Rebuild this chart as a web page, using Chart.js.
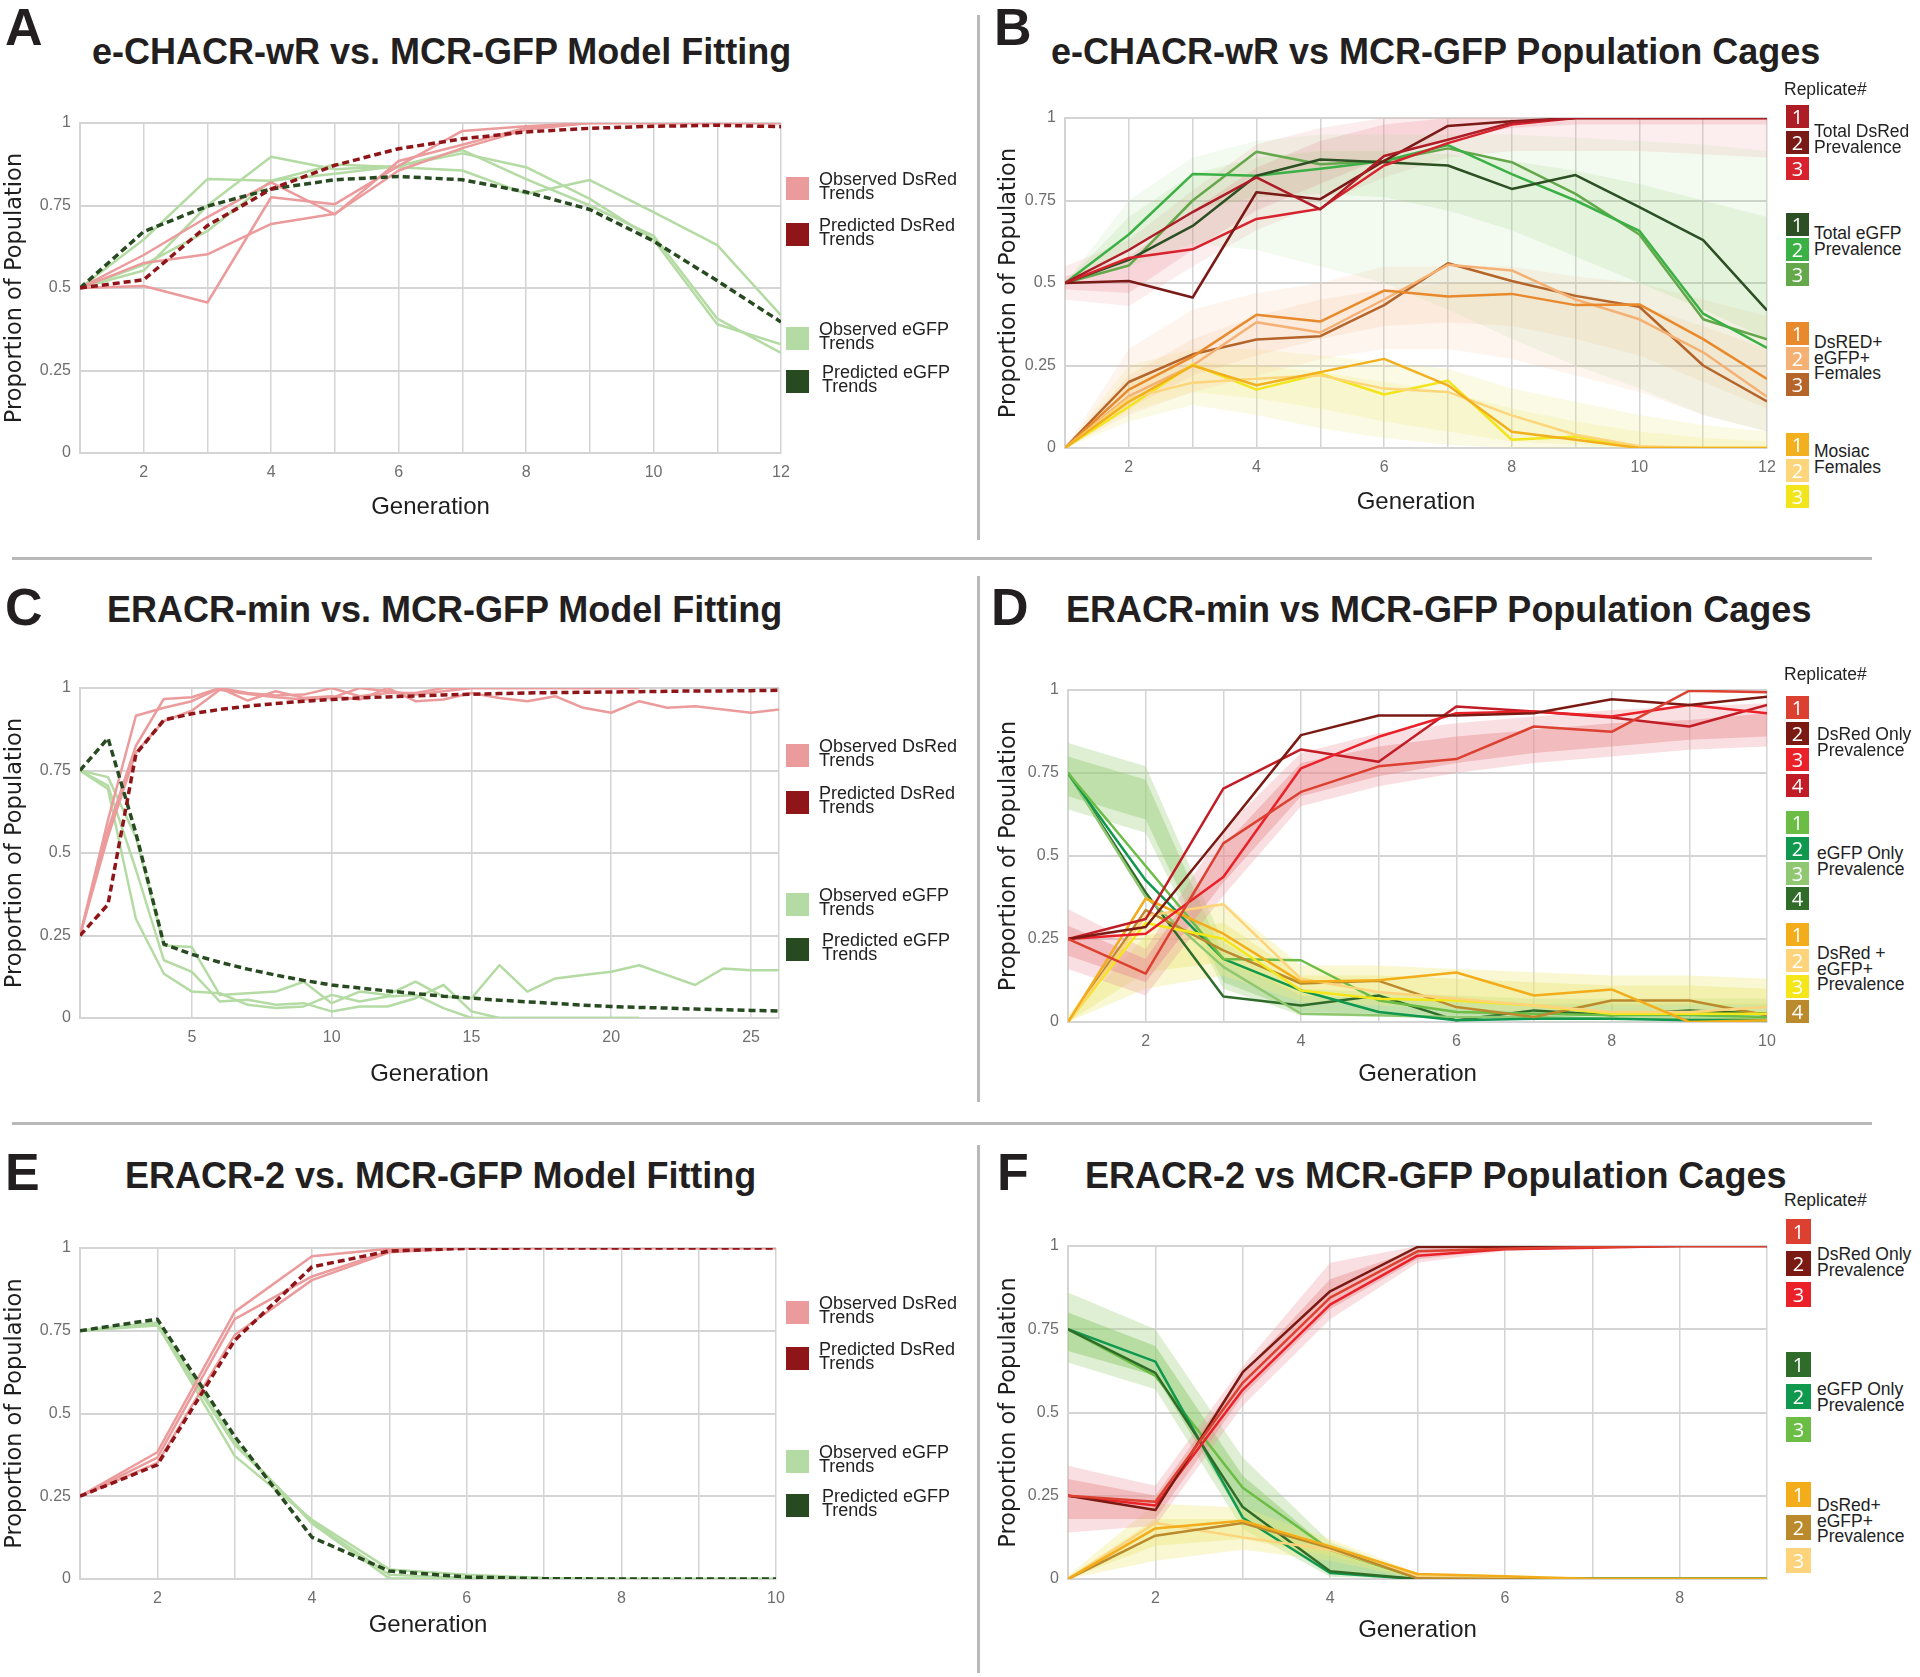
<!DOCTYPE html>
<html><head><meta charset="utf-8"><title>Population cage model fitting</title>
<script src="https://cdn.jsdelivr.net/npm/chart.js@4.4.1/dist/chart.umd.min.js"></script>
<style>
html,body{margin:0;padding:0;background:#fff;}
body{width:1920px;height:1677px;position:relative;overflow:hidden;font-family:'Liberation Sans',Arial,sans-serif;}
canvas{position:absolute;}
.sep{position:absolute;background:#b9b9b9;}
.letter{position:absolute;font-weight:bold;font-size:52px;line-height:52px;color:#231f20;}
.title{position:absolute;font-weight:bold;font-size:36px;line-height:36px;color:#231f20;white-space:nowrap;}
.ltxt{position:absolute;font-size:18px;line-height:13.5px;color:#222;white-space:nowrap;}
.gtxt{position:absolute;font-size:17.5px;line-height:15.5px;color:#222;white-space:nowrap;}
.box{position:absolute;}
.nbox{position:absolute;color:#fff;font-family:'Open Sans',sans-serif;font-size:20px;text-align:center;}
</style></head>
<body>
<script>
// ================= DATA =================
// Panel A / B : e-CHACR-wR vs MCR-GFP (generations 1..12)
const genAB = [1,2,3,4,5,6,7,8,9,10,11,12];
const abRed1 = [0.5, 0.6, 0.715, 0.82, 0.723, 0.885, 0.934, 0.986, 1, 1, 1, 1];
const abRed2 = [0.5, 0.506, 0.456, 0.775, 0.754, 0.87, 0.976, 0.99, 1, 1, 1, 1];
const abRed3 = [0.5, 0.576, 0.602, 0.694, 0.725, 0.856, 0.924, 0.98, 1, 1, 1, 1];
const abGfp1 = [0.5, 0.57, 0.673, 0.825, 0.874, 0.866, 0.856, 0.785, 0.827, 0.73, 0.63, 0.417];
const abGfp2 = [0.5, 0.647, 0.83, 0.825, 0.846, 0.87, 0.918, 0.83, 0.75, 0.658, 0.407, 0.303];
const abGfp3 = [0.5, 0.553, 0.75, 0.898, 0.86, 0.87, 0.908, 0.866, 0.77, 0.647, 0.39, 0.329];
const aPredRed = [0.5, 0.525, 0.689, 0.8, 0.872, 0.922, 0.952, 0.973, 0.984, 0.99, 0.993, 0.989];
const aPredGfp = [0.5, 0.671, 0.748, 0.8, 0.828, 0.838, 0.828, 0.791, 0.738, 0.642, 0.522, 0.397];
const bDblF1 = [0, 0.177, 0.277, 0.404, 0.383, 0.477, 0.459, 0.467, 0.433, 0.435, 0.33, 0.209];
const bDblF2 = [0, 0.157, 0.25, 0.381, 0.35, 0.45, 0.555, 0.538, 0.45, 0.39, 0.29, 0.155];
const bDblF3 = [0, 0.2, 0.284, 0.329, 0.339, 0.433, 0.56, 0.506, 0.461, 0.428, 0.25, 0.141];
const bMos1 = [0, 0.14, 0.25, 0.19, 0.23, 0.27, 0.19, 0.049, 0.025, 0, 0, 0];
const bMos2 = [0, 0.15, 0.198, 0.21, 0.22, 0.18, 0.17, 0.099, 0.04, 0.005, 0, 0];
const bMos3 = [0, 0.125, 0.253, 0.177, 0.225, 0.162, 0.204, 0.025, 0.035, 0, 0, 0];
// simulated-run envelopes (outer spread and dense core) for panel B
const bSimRedLo  = [0.45, 0.43, 0.55, 0.66, 0.74, 0.82, 0.88, 0.9, 0.9, 0.9, 0.89, 0.88];
const bSimRedHi  = [0.55, 0.63, 0.78, 0.92, 0.97, 1, 1, 1, 1, 1, 1, 1];
const bCoreRedLo = [0.48, 0.47, 0.6, 0.72, 0.8, 0.88, 0.94, 0.97, 0.98, 0.98, 0.98, 0.98];
const bCoreRedHi = [0.52, 0.58, 0.72, 0.85, 0.93, 0.98, 1, 1, 1, 1, 1, 1];
const bSimGfpLo  = [0.5, 0.55, 0.62, 0.6, 0.55, 0.5, 0.42, 0.33, 0.25, 0.18, 0.1, 0.05];
const bSimGfpHi  = [0.5, 0.75, 0.88, 0.93, 0.95, 0.95, 0.95, 0.95, 0.94, 0.93, 0.92, 0.9];
const bCoreGfpLo = [0.5, 0.6, 0.72, 0.76, 0.77, 0.76, 0.72, 0.66, 0.58, 0.5, 0.42, 0.33];
const bCoreGfpHi = [0.5, 0.7, 0.83, 0.88, 0.9, 0.9, 0.89, 0.87, 0.84, 0.8, 0.75, 0.7];
const bSimDblLo  = [0, 0.1, 0.17, 0.22, 0.27, 0.3, 0.3, 0.27, 0.22, 0.17, 0.1, 0.05];
const bSimDblHi  = [0, 0.3, 0.42, 0.47, 0.5, 0.55, 0.55, 0.55, 0.52, 0.5, 0.45, 0.4];
const bCoreDblLo = [0, 0.12, 0.22, 0.28, 0.33, 0.37, 0.38, 0.37, 0.33, 0.28, 0.2, 0.12];
const bCoreDblHi = [0, 0.22, 0.33, 0.4, 0.45, 0.48, 0.5, 0.5, 0.47, 0.43, 0.37, 0.3];
const bSimMosLo  = [0, 0.08, 0.13, 0.1, 0.06, 0.03, 0.01, 0, 0, 0, 0, 0];
const bSimMosHi  = [0, 0.25, 0.3, 0.3, 0.28, 0.26, 0.24, 0.18, 0.14, 0.1, 0.07, 0.05];
const bCoreMosLo = [0, 0.11, 0.17, 0.15, 0.12, 0.08, 0.05, 0.02, 0.01, 0, 0, 0];
const bCoreMosHi = [0, 0.2, 0.26, 0.25, 0.23, 0.2, 0.17, 0.12, 0.08, 0.05, 0.03, 0.02];

// Panel C : ERACR-min vs MCR-GFP model fitting (generations 1..26)
const genC = [1,2,3,4,5,6,7,8,9,10,11,12,13,14,15,16,17,18,19,20,21,22,23,24,25,26];
const cObsRed1 = [0.25, 0.6, 0.916, 0.94, 0.96, 1.0, 0.962, 0.99, 0.97, 0.975, 0.965, 1.0, 0.96, 0.965, 0.985, 0.97, 0.96, 0.975, 0.94, 0.925, 0.96, 0.94, 0.945, 0.935, 0.925, 0.935];
const cObsRed2 = [0.25, 0.57, 0.825, 0.967, 0.972, 1.0, 0.985, 0.977, 0.98, 1.0, 0.975, 0.985, 0.985, 1.0, 1.0, 1.0, 1.0, 1.0, 1.0, 1.0, 1.0];
const cObsRed3 = [0.25, 0.55, 0.805, 0.9, 0.931, 0.995, 0.982, 0.972, 0.965, 0.97, 1.0, 0.99, 0.98, 0.99, 1.0, 1.0, 1.0, 1.0, 1.0, 1.0, 1.0];
const cObsGfp1 = [0.75, 0.73, 0.548, 0.22, 0.215, 0.07, 0.075, 0.08, 0.11, 0.045, 0.08, 0.07, 0.11, 0.065, 0.06, 0.16, 0.08, 0.12, 0.13, 0.14, 0.16, 0.13, 0.1, 0.15, 0.145, 0.145];
const cObsGfp2 = [0.75, 0.704, 0.45, 0.175, 0.14, 0.05, 0.055, 0.04, 0.045, 0.02, 0.035, 0.035, 0.06, 0.1, 0.02, 0, 0, 0, 0, 0, 0];
const cObsGfp3 = [0.75, 0.694, 0.3, 0.134, 0.08, 0.075, 0.04, 0.03, 0.035, 0.07, 0.05, 0.065, 0.07, 0.03, 0, 0, 0, 0, 0, 0, 0];
const cPredRed = [0.25, 0.344, 0.8, 0.903, 0.922, 0.935, 0.945, 0.953, 0.96, 0.965, 0.97, 0.973, 0.976, 0.979, 0.981, 0.983, 0.985, 0.986, 0.987, 0.988, 0.989, 0.99, 0.991, 0.991, 0.992, 0.993];
const cPredGfp = [0.75, 0.848, 0.56, 0.224, 0.193, 0.169, 0.148, 0.13, 0.114, 0.1, 0.091, 0.082, 0.074, 0.066, 0.06, 0.054, 0.049, 0.044, 0.039, 0.035, 0.032, 0.03, 0.027, 0.025, 0.023, 0.021];

// Panel D : ERACR-min vs MCR-GFP cages (generations 1..10)
const genD = [1,2,3,4,5,6,7,8,9,10];
const dRed1 = [0.25, 0.146, 0.538, 0.693, 0.77, 0.792, 0.89, 0.874, 0.998, 0.993];
const dRed2 = [0.25, 0.286, 0.573, 0.864, 0.923, 0.923, 0.93, 0.972, 0.955, 0.98];
const dRed3 = [0.25, 0.266, 0.437, 0.764, 0.859, 0.93, 0.935, 0.92, 0.955, 0.93];
const dRed4 = [0.25, 0.31, 0.703, 0.821, 0.784, 0.95, 0.935, 0.917, 0.89, 0.955];
const dGfp1 = [0.75, 0.47, 0.19, 0.186, 0.065, 0.03, 0.025, 0.02, 0.02, 0.015];
const dGfp2 = [0.75, 0.427, 0.19, 0.095, 0.03, 0.005, 0.01, 0.01, 0.005, 0.005];
const dGfp3 = [0.75, 0.377, 0.166, 0.025, 0.02, 0.015, 0.015, 0.01, 0.01, 0.01];
const dGfp4 = [0.75, 0.39, 0.077, 0.05, 0.08, 0.005, 0.035, 0.02, 0.035, 0.025];
const dDbl1 = [0, 0.372, 0.266, 0.121, 0.126, 0.149, 0.08, 0.098, 0, 0.005];
const dDbl2 = [0, 0.32, 0.355, 0.13, 0.09, 0.07, 0.05, 0.03, 0.03, 0.045];
const dDbl3 = [0, 0.298, 0.251, 0.095, 0.07, 0.065, 0.05, 0.025, 0.025, 0.025];
const dDbl4 = [0, 0.337, 0.216, 0.116, 0.124, 0.045, 0.015, 0.065, 0.065, 0.02];
const dSimRedLo  = [0.16, 0.08, 0.38, 0.65, 0.71, 0.75, 0.78, 0.8, 0.82, 0.83];
const dSimRedHi  = [0.34, 0.22, 0.58, 0.81, 0.87, 0.9, 0.92, 0.94, 0.95, 0.96];
const dCoreRedLo = [0.2, 0.12, 0.42, 0.68, 0.74, 0.78, 0.81, 0.83, 0.85, 0.86];
const dCoreRedHi = [0.29, 0.19, 0.53, 0.78, 0.83, 0.86, 0.88, 0.9, 0.91, 0.93];
const dSimGfpLo  = [0.64, 0.57, 0.1, 0.02, 0.015, 0.01, 0.01, 0.01, 0.01, 0.01];
const dSimGfpHi  = [0.84, 0.77, 0.24, 0.1, 0.09, 0.08, 0.07, 0.07, 0.07, 0.07];
const dCoreGfpLo = [0.68, 0.61, 0.12, 0.03, 0.025, 0.02, 0.02, 0.02, 0.02, 0.02];
const dCoreGfpHi = [0.8, 0.73, 0.2, 0.08, 0.07, 0.06, 0.055, 0.055, 0.055, 0.055];
const dSimDblLo  = [0, 0.1, 0.14, 0.06, 0.05, 0.04, 0.03, 0.03, 0.02, 0.02];
const dSimDblHi  = [0.02, 0.32, 0.36, 0.17, 0.17, 0.16, 0.15, 0.14, 0.14, 0.13];
const dCoreDblLo = [0, 0.15, 0.18, 0.08, 0.07, 0.06, 0.05, 0.05, 0.05, 0.05];
const dCoreDblHi = [0.01, 0.26, 0.3, 0.14, 0.14, 0.13, 0.12, 0.11, 0.11, 0.1];

// Panel E : ERACR-2 vs MCR-GFP model fitting (generations 1..10)
const genE = [1,2,3,4,5,6,7,8,9,10];
const eObsRed1 = [0.25, 0.383, 0.807, 0.975, 0.998, 1, 1, 1, 1, 1];
const eObsRed2 = [0.25, 0.367, 0.785, 0.914, 0.991, 1, 1, 1, 1, 1];
const eObsRed3 = [0.25, 0.351, 0.737, 0.903, 0.987, 1, 1, 1, 1, 1];
const eObsGfp1 = [0.75, 0.769, 0.372, 0.179, 0.029, 0.013, 0.003, 0, 0, 0];
const eObsGfp2 = [0.75, 0.766, 0.405, 0.174, 0.013, 0.004, 0, 0, 0, 0];
const eObsGfp3 = [0.75, 0.775, 0.415, 0.168, 0.002, 0, 0, 0, 0, 0];
const ePredRed = [0.25, 0.345, 0.721, 0.943, 0.991, 0.999, 1, 1, 1, 1];
const ePredGfp = [0.75, 0.785, 0.431, 0.126, 0.024, 0.006, 0.001, 0, 0, 0];

// Panel F : ERACR-2 vs MCR-GFP cages (generations 1..9)
const genF = [1,2,3,4,5,6,7,8,9];
const fRed1 = [0.25, 0.232, 0.589, 0.845, 0.984, 0.992, 0.997, 1, 1];
const fRed2 = [0.25, 0.207, 0.621, 0.864, 0.997, 0.998, 1, 1, 1];
const fRed3 = [0.25, 0.221, 0.568, 0.824, 0.971, 0.99, 0.995, 1, 1];
const fGfp1 = [0.75, 0.619, 0.216, 0.023, 0, 0, 0, 0, 0];
const fGfp2 = [0.75, 0.653, 0.184, 0.018, 0, 0, 0, 0, 0];
const fGfp3 = [0.75, 0.61, 0.274, 0.088, 0.003, 0.003, 0.002, 0.002, 0.002];
const fDbl1 = [0, 0.152, 0.175, 0.098, 0.015, 0.008, 0, 0, 0];
const fDbl2 = [0, 0.13, 0.168, 0.093, 0.002, 0, 0, 0, 0];
const fDbl3 = [0, 0.168, 0.125, 0.088, 0.007, 0.003, 0, 0, 0];
const fSimRedLo  = [0.14, 0.16, 0.52, 0.78, 0.95, 0.985, 0.995, 1, 1];
const fSimRedHi  = [0.34, 0.28, 0.64, 0.95, 1, 1, 1, 1, 1];
const fCoreRedLo = [0.18, 0.18, 0.55, 0.81, 0.96, 0.99, 1, 1, 1];
const fCoreRedHi = [0.3, 0.25, 0.62, 0.9, 0.99, 1, 1, 1, 1];
const fSimGfpLo  = [0.65, 0.57, 0.15, 0.007, 0, 0, 0, 0, 0];
const fSimGfpHi  = [0.86, 0.75, 0.365, 0.11, 0.013, 0.005, 0.003, 0.003, 0.003];
const fCoreGfpLo = [0.685, 0.61, 0.18, 0.023, 0, 0, 0, 0, 0];
const fCoreGfpHi = [0.8, 0.7, 0.31, 0.088, 0.008, 0.003, 0.002, 0.002, 0.002];
const fSimDblLo  = [0, 0.055, 0.088, 0.055, 0, 0, 0, 0, 0];
const fSimDblHi  = [0.01, 0.226, 0.215, 0.12, 0.018, 0.005, 0.002, 0.001, 0.001];
const fCoreDblLo = [0, 0.1, 0.12, 0.07, 0.003, 0, 0, 0, 0];
const fCoreDblHi = [0.005, 0.18, 0.18, 0.105, 0.012, 0.003, 0.001, 0, 0];

const yTicks = [0, 0.25, 0.5, 0.75, 1];

// ================= STYLE / LAYOUT =================
Chart.defaults.font.family = "'Liberation Sans', Arial, sans-serif";
const GRID = '#d4d4d4';
const C = {
  obsRed:'#ec9b9c', predRed:'#8f1519', obsGfp:'#b4dba3', predGfp:'#284a20',
  bRed:['#ae1c26','#7a1a17','#d8232e'], bGfp:['#2c4f24','#3bb044','#64a84b'],
  bDbl:['#e8892c','#f5b074','#b5652a'], bMos:['#f2b01e','#fdd57a','#f3e51c'],
  dRed:['#dc4031','#7a1a12','#ea2129','#c21d26'], dGfp:['#6cbd45','#10994e','#8fc870','#2f6c2a'],
  dDbl:['#f3ac1a','#fdd37c','#f5e61a','#bb8a2c'],
  fRed:['#dc4031','#7a1a12','#ea2129'], fGfp:['#2f6c2a','#10994e','#6cbd45'], fDbl:['#f3ac1a','#bb8a2c','#fdd37c']
};

function pts(xs, ys){ return ys.map((y,i)=>({x:xs[i], y:y})); }
function line(xs, ys, color, w, dash, order){
  return {data:pts(xs,ys), borderColor:color, borderWidth:w, borderDash:dash||[], pointRadius:0,
          fill:false, tension:0, order:(order===undefined?1:order), borderCapStyle:'butt', borderJoinStyle:'round'};
}
function band(xs, lo, hi, color){
  return [
    {data:pts(xs,lo), borderColor:'rgba(0,0,0,0)', borderWidth:0, pointRadius:0, fill:false, tension:0, order:5},
    {data:pts(xs,hi), borderColor:'rgba(0,0,0,0)', borderWidth:0, pointRadius:0, fill:'-1', backgroundColor:color, tension:0, order:5}
  ];
}

function makeChart(g, datasets, xmin, xmax, labelFn, gridFn){
  const left = Math.round(g.yt - 13.5);
  const top = g.T - 20;
  const width = g.R + 20 - left;
  const bottom = Math.round(g.gy + 14.4);
  const height = bottom - top;
  const yW = g.L - left, xH = bottom - g.B;
  const cv = document.createElement('canvas');
  cv.width = width; cv.height = height;
  cv.style.left = left + 'px'; cv.style.top = top + 'px';
  cv.style.width = width + 'px'; cv.style.height = height + 'px';
  document.body.appendChild(cv);
  new Chart(cv, {
    type:'line',
    data:{datasets:datasets},
    options:{
      responsive:false, animation:false, devicePixelRatio:1,
      layout:{padding:{top:20, right:20, left:0, bottom:0}},
      plugins:{legend:{display:false}, tooltip:{enabled:false}},
      scales:{
        x:{type:'linear', min:xmin, max:xmax, afterFit:function(s){ s.height = xH; },
           ticks:{stepSize:1, autoSkip:false, maxRotation:0, minRotation:0, padding:10, color:'#6e6e6e',
                  font:{size:16}, callback:function(v){ return labelFn(v) ? String(v) : ''; }},
           grid:{drawTicks:false, lineWidth:1.5, color:function(c){ return (!c.tick || gridFn(c.tick.value)) ? GRID : 'rgba(0,0,0,0)'; }},
           border:{display:true, color:GRID, width:2},
           title:{display:true, text:'Generation', color:'#1e1e1e', font:{size:24}, padding:0}},
        y:{type:'linear', min:0, max:1, afterFit:function(s){ s.width = yW; },
           afterBuildTicks:function(s){ s.ticks = yTicks.map(v=>({value:v})); },
           ticks:{padding:9, color:'#6e6e6e', font:{size:16}, callback:function(v){ return String(v); }},
           grid:{drawTicks:false, lineWidth:2, color:GRID},
           border:{display:true, color:GRID, width:2},
           title:{display:true, text:'Proportion of Population', color:'#1e1e1e',
                  font:{family:"'DejaVu Sans', sans-serif", size:22.5}, padding:0}}
      }
    }
  });
}

const even = v => v % 2 === 0;
const every = v => true;

// Panel A
makeChart({L:80, T:123, R:781, B:453, yt:15, gy:508}, [
  line(genAB, aPredRed, C.predRed, 3.5, [7,4], 0),
  line(genAB, aPredGfp, C.predGfp, 3.5, [7,4], 0),
  line(genAB, abRed1, C.obsRed, 2.5), line(genAB, abRed2, C.obsRed, 2.5), line(genAB, abRed3, C.obsRed, 2.5),
  line(genAB, abGfp1, C.obsGfp, 2.5), line(genAB, abGfp2, C.obsGfp, 2.5), line(genAB, abGfp3, C.obsGfp, 2.5)
], 1, 12, even, every);

// Panel B
makeChart({L:1065, T:118, R:1767, B:448, yt:1009, gy:503}, [
  line(genAB, bMos1, C.bMos[0], 2.5), line(genAB, bMos2, C.bMos[1], 2.5), line(genAB, bMos3, C.bMos[2], 2.5),
  line(genAB, bDblF1, C.bDbl[0], 2.5), line(genAB, bDblF2, C.bDbl[1], 2.5), line(genAB, bDblF3, C.bDbl[2], 2.5),
  line(genAB, abRed1, C.bRed[0], 2.5), line(genAB, abRed2, C.bRed[1], 2.5), line(genAB, abRed3, C.bRed[2], 2.5),
  line(genAB, abGfp1, C.bGfp[0], 2.5), line(genAB, abGfp2, C.bGfp[1], 2.5), line(genAB, abGfp3, C.bGfp[2], 2.5),
  ...band(genAB, bSimGfpLo, bSimGfpHi, 'rgba(150,205,115,0.11)'),
  ...band(genAB, bCoreGfpLo, bCoreGfpHi, 'rgba(150,205,115,0.16)'),
  ...band(genAB, bSimRedLo, bSimRedHi, 'rgba(236,140,150,0.16)'),
  ...band(genAB, bCoreRedLo, bCoreRedHi, 'rgba(236,140,150,0.24)'),
  ...band(genAB, bSimDblLo, bSimDblHi, 'rgba(245,185,140,0.14)'),
  ...band(genAB, bCoreDblLo, bCoreDblHi, 'rgba(245,185,140,0.18)'),
  ...band(genAB, bSimMosLo, bSimMosHi, 'rgba(235,230,120,0.2)'),
  ...band(genAB, bCoreMosLo, bCoreMosHi, 'rgba(235,230,120,0.22)')
], 1, 12, even, every);

// Panel C
makeChart({L:80, T:688, R:779, B:1018, yt:15, gy:1075}, [
  line(genC, cPredRed, C.predRed, 3.5, [7,4], 0),
  line(genC, cPredGfp, C.predGfp, 3.5, [7,4], 0),
  line(genC, cObsRed1, C.obsRed, 2.5), line(genC, cObsRed2, C.obsRed, 2.5), line(genC, cObsRed3, C.obsRed, 2.5),
  line(genC, cObsGfp1, C.obsGfp, 2.5), line(genC, cObsGfp2, C.obsGfp, 2.5), line(genC, cObsGfp3, C.obsGfp, 2.5)
], 1, 26, v => v % 5 === 0, v => v % 5 === 0 || v === 1 || v === 26);

// Panel D
makeChart({L:1068, T:690, R:1767, B:1022, yt:1009, gy:1075}, [
  line(genD, dRed1, C.dRed[0], 2.5), line(genD, dRed2, C.dRed[1], 2.5), line(genD, dRed3, C.dRed[2], 2.5), line(genD, dRed4, C.dRed[3], 2.5),
  line(genD, dDbl1, C.dDbl[0], 2.5), line(genD, dDbl2, C.dDbl[1], 2.5), line(genD, dDbl3, C.dDbl[2], 2.5), line(genD, dDbl4, C.dDbl[3], 2.5),
  line(genD, dGfp1, C.dGfp[0], 2.5), line(genD, dGfp2, C.dGfp[1], 2.5), line(genD, dGfp3, C.dGfp[2], 2.5), line(genD, dGfp4, C.dGfp[3], 2.5),
  ...band(genD, dSimRedLo, dSimRedHi, 'rgba(236,150,155,0.3)'),
  ...band(genD, dCoreRedLo, dCoreRedHi, 'rgba(232,140,145,0.45)'),
  ...band(genD, dSimDblLo, dSimDblHi, 'rgba(238,235,130,0.35)'),
  ...band(genD, dCoreDblLo, dCoreDblHi, 'rgba(232,228,110,0.4)'),
  ...band(genD, dSimGfpLo, dSimGfpHi, 'rgba(160,210,130,0.35)'),
  ...band(genD, dCoreGfpLo, dCoreGfpHi, 'rgba(150,205,120,0.45)')
], 1, 10, even, every);

// Panel E
makeChart({L:80, T:1248, R:776, B:1579, yt:15, gy:1626}, [
  line(genE, ePredRed, C.predRed, 3.5, [7,4], 0),
  line(genE, ePredGfp, C.predGfp, 3.5, [7,4], 0),
  line(genE, eObsRed1, C.obsRed, 2.5), line(genE, eObsRed2, C.obsRed, 2.5), line(genE, eObsRed3, C.obsRed, 2.5),
  line(genE, eObsGfp1, C.obsGfp, 2.5), line(genE, eObsGfp2, C.obsGfp, 2.5), line(genE, eObsGfp3, C.obsGfp, 2.5)
], 1, 10, even, every);

// Panel F
makeChart({L:1068, T:1246, R:1767, B:1579, yt:1009, gy:1631}, [
  line(genF, fRed1, C.fRed[0], 2.5), line(genF, fRed2, C.fRed[1], 2.5), line(genF, fRed3, C.fRed[2], 2.5),
  line(genF, fDbl1, C.fDbl[0], 2.5), line(genF, fDbl2, C.fDbl[1], 2.5), line(genF, fDbl3, C.fDbl[2], 2.5),
  line(genF, fGfp1, C.fGfp[0], 2.5), line(genF, fGfp2, C.fGfp[1], 2.5), line(genF, fGfp3, C.fGfp[2], 2.5),
  ...band(genF, fSimRedLo, fSimRedHi, 'rgba(236,150,155,0.3)'),
  ...band(genF, fCoreRedLo, fCoreRedHi, 'rgba(232,140,145,0.45)'),
  ...band(genF, fSimDblLo, fSimDblHi, 'rgba(238,235,130,0.35)'),
  ...band(genF, fCoreDblLo, fCoreDblHi, 'rgba(232,228,110,0.4)'),
  ...band(genF, fSimGfpLo, fSimGfpHi, 'rgba(160,210,130,0.35)'),
  ...band(genF, fCoreGfpLo, fCoreGfpHi, 'rgba(140,200,105,0.5)')
], 1, 9, even, every);

// ================= TEXT / LEGENDS =================
function add(cls, x, y, html, extra){
  const d = document.createElement('div');
  d.className = cls;
  d.style.left = x + 'px'; d.style.top = y + 'px';
  if (extra) d.style.cssText += extra;
  d.innerHTML = html;
  document.body.appendChild(d);
  return d;
}
// separators
add('sep', 12, 557, '', 'width:1860px;height:3px;');
add('sep', 12, 1122, '', 'width:1860px;height:3px;');
add('sep', 977, 15, '', 'width:3px;height:525px;');
add('sep', 977, 576, '', 'width:3px;height:526px;');
add('sep', 977, 1145, '', 'width:3px;height:528px;');
// panel letters and titles
[['A',5,1],['B',994,1],['C',5,581],['D',991,581],['E',5,1146],['F',997,1146]].forEach(l => add('letter', l[1], l[2], l[0]));
[['e-CHACR-wR vs. MCR-GFP Model Fitting',92,34],['e-CHACR-wR vs MCR-GFP Population Cages',1051,34],
 ['ERACR-min vs. MCR-GFP Model Fitting',107,592],['ERACR-min vs MCR-GFP Population Cages',1066,592],
 ['ERACR-2 vs. MCR-GFP Model Fitting',125,1158],['ERACR-2 vs MCR-GFP Population Cages',1085,1158]]
 .forEach(t => add('title', t[1], t[2], t[0]));

// model-fitting legends (A, C, E)
const fitLabels = ['Observed DsRed<br>Trends','Predicted DsRed<br>Trends','Observed eGFP<br>Trends','Predicted eGFP<br>Trends'];
const fitColors = [C.obsRed, C.predRed, C.obsGfp, C.predGfp];
[[177,223,327,370],[744,791,893,938],[1301,1347,1450,1494]].forEach(tops => {
  tops.forEach((t,i) => {
    add('box', 786, t, '', 'width:23px;height:23px;background:' + fitColors[i] + ';');
    add('ltxt', i === 3 ? 822 : 819, t - 3.75, fitLabels[i]);
  });
});

// replicate legends (B, D, F)
function repLegend(titleY, boxes, size, labels){
  add('gtxt', 1784, titleY, 'Replicate#');
  boxes.forEach(b => add('nbox', 1786, b[0], b[1],
    'width:' + size + 'px;height:' + size + 'px;line-height:' + size + 'px;background:' + b[2] + ';'));
  labels.forEach(l => add('gtxt', l[0], l[1], l[2]));
}
repLegend(82, [
  [105,'1',C.bRed[0]],[131,'2',C.bRed[1]],[157,'3',C.bRed[2]],
  [213,'1',C.bGfp[0]],[238,'2',C.bGfp[1]],[263,'3',C.bGfp[2]],
  [322,'1',C.bDbl[0]],[347,'2',C.bDbl[1]],[373,'3',C.bDbl[2]],
  [433,'1',C.bMos[0]],[459,'2',C.bMos[1]],[485,'3',C.bMos[2]]
], 23, [[1814,124,'Total DsRed<br>Prevalence'],[1814,226,'Total eGFP<br>Prevalence'],
        [1814,335,'DsRED+<br>eGFP+<br>Females'],[1814,444,'Mosiac<br>Females']]);
repLegend(667, [
  [696,'1',C.dRed[0]],[722,'2',C.dRed[1]],[748,'3',C.dRed[2]],[774,'4',C.dRed[3]],
  [811,'1',C.dGfp[0]],[837,'2',C.dGfp[1]],[862,'3',C.dGfp[2]],[887,'4',C.dGfp[3]],
  [923,'1',C.dDbl[0]],[949,'2',C.dDbl[1]],[975,'3',C.dDbl[2]],[1000,'4',C.dDbl[3]]
], 23, [[1817,727,'DsRed Only<br>Prevalence'],[1817,846,'eGFP Only<br>Prevalence'],
        [1817,946,'DsRed +<br>eGFP+<br>Prevalence']]);
repLegend(1193, [
  [1219,'1',C.fRed[0]],[1251,'2',C.fRed[1]],[1282,'3',C.fRed[2]],
  [1352,'1',C.fGfp[0]],[1384,'2',C.fGfp[1]],[1417,'3',C.fGfp[2]],
  [1482,'1',C.fDbl[0]],[1515,'2',C.fDbl[1]],[1548,'3',C.fDbl[2]]
], 25, [[1817,1247,'DsRed Only<br>Prevalence'],[1817,1382,'eGFP Only<br>Prevalence'],
        [1817,1498,'DsRed+<br>eGFP+<br>Prevalence']]);
</script>
</body></html>
